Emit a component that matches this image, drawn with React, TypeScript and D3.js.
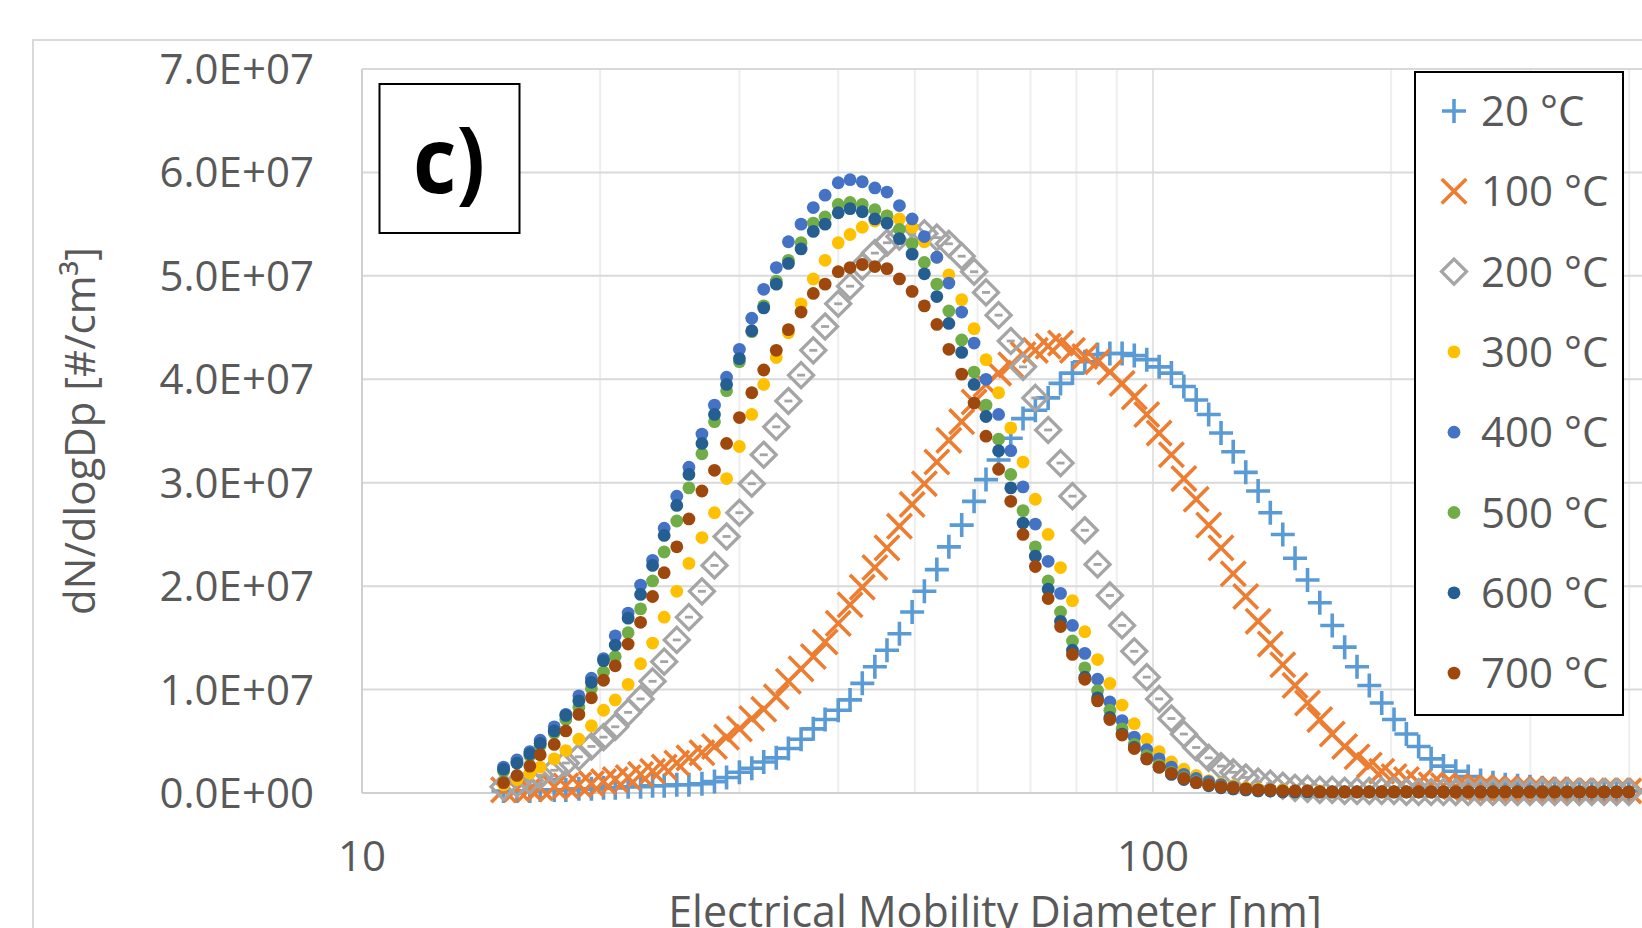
import React, { useEffect } from "react";
import * as d3 from "d3";

// Electrical mobility diameter channels [nm] (64 channels / decade)
const DIAMETERS = [
  15.1, 15.7, 16.3, 16.8, 17.5, 18.1, 18.8, 19.5, 20.2, 20.9,
  21.7, 22.5, 23.3, 24.1, 25.0, 25.9, 26.9, 27.9, 28.9, 30.0,
  31.1, 32.2, 33.4, 34.6, 35.9, 37.2, 38.5, 40.0, 41.4, 42.9,
  44.5, 46.1, 47.8, 49.6, 51.4, 53.3, 55.2, 57.3, 59.4, 61.5,
  63.8, 66.1, 68.5, 71.0, 73.7, 76.4, 79.1, 82.0, 85.1, 88.2,
  91.4, 94.7, 98.2, 101.8, 105.5, 109.4, 113.4, 117.6, 121.9, 126.3,
  131.0, 135.8, 140.7, 145.9, 151.2, 156.8, 162.5, 168.5, 174.7, 181.1,
  187.7, 194.6, 201.7, 209.1, 216.7, 224.7, 232.9, 241.4, 250.3, 259.5,
  269.0, 278.8, 289.0, 299.6, 310.6, 322.0, 333.8, 346.0, 358.7, 371.8,
  385.4, 399.5,
];
const DIAMETERS_100C = [...DIAMETERS, 414.2];

// dN/dlogDp values in units of 1E+07 #/cm3
const S20 = [
  0.02, 0.02, 0.02, 0.03, 0.03, 0.03, 0.04, 0.04, 0.05, 0.05,
  0.06, 0.06, 0.07, 0.07, 0.08, 0.08, 0.09, 0.11, 0.15, 0.20,
  0.24, 0.30, 0.34, 0.43, 0.52, 0.62, 0.71, 0.80, 0.90, 1.06,
  1.22, 1.38, 1.54, 1.75, 1.95, 2.16, 2.38, 2.59, 2.82, 3.03,
  3.22, 3.43, 3.62, 3.70, 3.82, 3.96, 4.06, 4.17, 4.24, 4.25,
  4.25, 4.23, 4.19, 4.12, 4.06, 3.93, 3.80, 3.66, 3.48, 3.30,
  3.10, 2.92, 2.71, 2.50, 2.27, 2.06, 1.84, 1.62, 1.41, 1.22,
  1.04, 0.87, 0.71, 0.57, 0.45, 0.33, 0.26, 0.21, 0.16, 0.12,
  0.10, 0.08, 0.07, 0.06, 0.05, 0.04, 0.04, 0.03, 0.03, 0.02,
  0.02, 0.02,
];
const S100 = [
  0.03, 0.04, 0.04, 0.05, 0.06, 0.07, 0.08, 0.09, 0.11, 0.13,
  0.15, 0.18, 0.21, 0.25, 0.29, 0.34, 0.39, 0.45, 0.54, 0.62,
  0.72, 0.81, 0.93, 1.08, 1.20, 1.32, 1.46, 1.64, 1.82, 1.99,
  2.18, 2.37, 2.58, 2.79, 2.99, 3.20, 3.41, 3.59, 3.78, 3.95,
  4.06, 4.14, 4.24, 4.28, 4.32, 4.35, 4.28, 4.22, 4.17, 4.07,
  3.96, 3.83, 3.66, 3.48, 3.27, 3.04, 2.84, 2.59, 2.37, 2.12,
  1.90, 1.66, 1.44, 1.24, 1.04, 0.87, 0.71, 0.57, 0.45, 0.35,
  0.27, 0.21, 0.16, 0.13, 0.10, 0.08, 0.07, 0.06, 0.05, 0.05,
  0.04, 0.04, 0.03, 0.03, 0.03, 0.03, 0.02, 0.02, 0.02, 0.02,
  0.02, 0.02, 0.02,
];
const S200 = [
  0.06, 0.09, 0.12, 0.17, 0.22, 0.29, 0.35, 0.45, 0.54, 0.64,
  0.78, 0.91, 1.08, 1.27, 1.48, 1.70, 1.95, 2.20, 2.48, 2.71,
  2.99, 3.27, 3.54, 3.79, 4.04, 4.28, 4.51, 4.73, 4.90, 5.09,
  5.22, 5.32, 5.38, 5.41, 5.41, 5.37, 5.31, 5.19, 5.04, 4.84,
  4.62, 4.37, 4.12, 3.82, 3.51, 3.19, 2.87, 2.54, 2.21, 1.91,
  1.62, 1.37, 1.12, 0.91, 0.72, 0.57, 0.44, 0.34, 0.26, 0.20,
  0.15, 0.11, 0.09, 0.07, 0.05, 0.04, 0.03, 0.03, 0.02, 0.02,
  0.02, 0.02, 0.02, 0.01, 0.01, 0.01, 0.01, 0.01, 0.01, 0.01,
  0.01, 0.01, 0.01, 0.01, 0.01, 0.01, 0.01, 0.01, 0.01, 0.01,
  0.01, 0.01,
];
const S300 = [
  0.08, 0.13, 0.19, 0.25, 0.33, 0.41, 0.52, 0.65, 0.80, 0.90,
  1.05, 1.25, 1.45, 1.70, 1.95, 2.22, 2.47, 2.71, 3.04, 3.35,
  3.66, 3.95, 4.21, 4.45, 4.73, 4.97, 5.15, 5.32, 5.40, 5.47,
  5.53, 5.58, 5.55, 5.47, 5.33, 5.18, 5.01, 4.77, 4.49, 4.19,
  3.87, 3.53, 3.20, 2.84, 2.50, 2.18, 1.86, 1.56, 1.29, 1.06,
  0.85, 0.67, 0.52, 0.40, 0.30, 0.23, 0.17, 0.12, 0.09, 0.07,
  0.05, 0.04, 0.03, 0.03, 0.02, 0.02, 0.02, 0.01, 0.01, 0.01,
  0.01, 0.01, 0.01, 0.01, 0.01, 0.01, 0.01, 0.01, 0.01, 0.01,
  0.01, 0.01, 0.01, 0.01, 0.01, 0.01, 0.01, 0.01, 0.01, 0.01,
  0.01, 0.01,
];
const S400 = [
  0.25, 0.32, 0.40, 0.51, 0.64, 0.76, 0.94, 1.11, 1.30, 1.52,
  1.74, 2.01, 2.25, 2.56, 2.87, 3.15, 3.47, 3.75, 4.02, 4.29,
  4.59, 4.87, 5.08, 5.33, 5.50, 5.66, 5.78, 5.90, 5.93, 5.91,
  5.85, 5.81, 5.68, 5.55, 5.38, 5.18, 4.93, 4.65, 4.35, 4.00,
  3.66, 3.31, 2.96, 2.60, 2.24, 1.93, 1.62, 1.35, 1.10, 0.88,
  0.70, 0.54, 0.42, 0.33, 0.25, 0.18, 0.14, 0.11, 0.08, 0.06,
  0.04, 0.03, 0.03, 0.02, 0.02, 0.02, 0.01, 0.01, 0.01, 0.01,
  0.01, 0.01, 0.01, 0.01, 0.01, 0.01, 0.01, 0.01, 0.01, 0.01,
  0.01, 0.01, 0.01, 0.01, 0.01, 0.01, 0.01, 0.01, 0.01, 0.01,
  0.01, 0.01,
];
const S500 = [
  0.21, 0.29, 0.36, 0.46, 0.58, 0.71, 0.83, 1.01, 1.17, 1.32,
  1.55, 1.78, 2.05, 2.33, 2.63, 2.95, 3.28, 3.59, 3.89, 4.17,
  4.46, 4.71, 4.95, 5.15, 5.32, 5.51, 5.57, 5.69, 5.71, 5.69,
  5.64, 5.58, 5.45, 5.31, 5.13, 4.92, 4.66, 4.38, 4.07, 3.75,
  3.42, 3.08, 2.73, 2.38, 2.05, 1.75, 1.47, 1.21, 0.99, 0.80,
  0.62, 0.47, 0.36, 0.27, 0.20, 0.15, 0.11, 0.08, 0.06, 0.04,
  0.03, 0.02, 0.02, 0.02, 0.01, 0.01, 0.01, 0.01, 0.01, 0.01,
  0.01, 0.01, 0.01, 0.01, 0.01, 0.01, 0.01, 0.01, 0.01, 0.01,
  0.01, 0.01, 0.01, 0.01, 0.01, 0.01, 0.01, 0.01, 0.01, 0.01,
  0.01, 0.01,
];
const S600 = [
  0.23, 0.29, 0.38, 0.48, 0.60, 0.75, 0.89, 1.07, 1.28, 1.43,
  1.69, 1.92, 2.20, 2.49, 2.78, 3.08, 3.38, 3.66, 3.95, 4.20,
  4.47, 4.69, 4.92, 5.12, 5.26, 5.43, 5.50, 5.61, 5.65, 5.62,
  5.55, 5.51, 5.36, 5.21, 5.02, 4.80, 4.54, 4.26, 3.95, 3.64,
  3.31, 2.95, 2.61, 2.29, 1.97, 1.66, 1.38, 1.12, 0.92, 0.73,
  0.57, 0.44, 0.33, 0.25, 0.18, 0.13, 0.10, 0.07, 0.05, 0.04,
  0.03, 0.02, 0.02, 0.01, 0.01, 0.01, 0.01, 0.01, 0.01, 0.01,
  0.01, 0.01, 0.01, 0.01, 0.01, 0.01, 0.01, 0.01, 0.01, 0.01,
  0.01, 0.01, 0.01, 0.01, 0.01, 0.01, 0.01, 0.01, 0.01, 0.01,
  0.01, 0.01,
];
const S700 = [
  0.10, 0.17, 0.26, 0.37, 0.47, 0.60, 0.76, 0.92, 1.09, 1.23,
  1.44, 1.65, 1.90, 2.13, 2.38, 2.65, 2.92, 3.12, 3.38, 3.63,
  3.87, 4.09, 4.28, 4.48, 4.65, 4.83, 4.92, 5.04, 5.08, 5.11,
  5.09, 5.07, 4.97, 4.85, 4.71, 4.53, 4.29, 4.05, 3.77, 3.45,
  3.13, 2.82, 2.50, 2.19, 1.88, 1.61, 1.34, 1.10, 0.89, 0.71,
  0.56, 0.43, 0.33, 0.25, 0.19, 0.14, 0.10, 0.08, 0.06, 0.05,
  0.04, 0.03, 0.03, 0.02, 0.02, 0.02, 0.01, 0.01, 0.01, 0.01,
  0.01, 0.01, 0.01, 0.01, 0.01, 0.01, 0.01, 0.01, 0.01, 0.01,
  0.01, 0.01, 0.01, 0.01, 0.01, 0.01, 0.01, 0.01, 0.01, 0.01,
  0.01, 0.01,
];
const UNIT = 1e7;

const SERIES_NAMES = ["20 °C", "100 °C", "200 °C", "300 °C", "400 °C", "500 °C", "600 °C", "700 °C"];
const SERIES_COLORS = ["#5B9BD5", "#ED7D31", "#A5A5A5", "#FFC000", "#4472C4", "#70AD47", "#255E91", "#9E480E"];
const SERIES_MARKERS = ["plus", "cross", "diamond", "dot", "dot", "dot", "dot", "dot"];
const SERIES_VALUES = [S20, S100, S200, S300, S400, S500, S600, S700];
const SERIES_X = [DIAMETERS, DIAMETERS_100C, DIAMETERS, DIAMETERS, DIAMETERS, DIAMETERS, DIAMETERS, DIAMETERS];

const Y_TICKS = [0, 1e7, 2e7, 3e7, 4e7, 5e7, 6e7, 7e7];
const Y_TICK_LABELS = ["0.0E+00", "1.0E+07", "2.0E+07", "3.0E+07", "4.0E+07", "5.0E+07", "6.0E+07", "7.0E+07"];
const X_MAJOR = [10, 100, 1000];
const X_LABELED = [10, 100];
const X_LABELS = ["10", "100"];
const X_MINOR = [20, 30, 40, 50, 60, 70, 80, 90, 200, 300, 400, 500, 600, 700, 800, 900];

const W = 1642;
const H = 928;
const FONT = "'Open Sans', 'Noto Sans', sans-serif";
const TEXT = "#595959";

const x = d3.scaleLog().domain([10, 1000]).range([362, 1944]);
const y = d3.scaleLinear().domain([0, 7e7]).range([793, 69]);

function Marker({ kind, cx, cy, color, inner }: any) {
  if (kind === "plus") {
    const a = 12;
    return (
      <path d={`M${cx - a},${cy}H${cx + a}M${cx},${cy - a}V${cy + a}`} stroke={color} strokeWidth={3.6} fill="none" />
    );
  }
  if (kind === "cross") {
    const a = 12.3;
    return (
      <path
        d={`M${cx - a},${cy - a}L${cx + a},${cy + a}M${cx - a},${cy + a}L${cx + a},${cy - a}`}
        stroke={color}
        strokeWidth={3.6}
        fill="none"
      />
    );
  }
  if (kind === "diamond") {
    const a = 12.5;
    return (
      <g>
        <path
          d={`M${cx},${cy - a}L${cx + a},${cy}L${cx},${cy + a}L${cx - a},${cy}Z`}
          stroke={color}
          strokeWidth={3.3}
          fill="none"
        />
        {inner ? <path d={`M${cx - 4},${cy}H${cx + 4}`} stroke={color} strokeWidth={2.8} /> : null}
      </g>
    );
  }
  return <circle cx={cx} cy={cy} r={6.4} fill={color} />;
}

export default function App() {
  useEffect(() => {
    document.body.style.margin = "0";
  }, []);

  const plotLeft = x(10);
  const plotTop = y(7e7);
  const plotBottom = y(0);

  const legendX = 1415;
  const legendY = 72;
  const legendW = 208;
  const legendH = 643;
  const legendRow0 = 111;
  const legendStep = 80.3;

  return (
    <svg
      width={W}
      height={H}
      viewBox={`0 0 ${W} ${H}`}
      style={{ position: "absolute", left: 0, top: 0, display: "block", background: "#fff" }}
    >
      <rect x={0} y={0} width={W} height={H} fill="#fff" />
      {/* chart area border */}
      <path d={`M33,${H + 5}V40H${W + 5}`} stroke="#d9d9d9" strokeWidth={2} fill="none" />

      {/* minor vertical gridlines */}
      {X_MINOR.map((v) => (
        <line key={"mn" + v} x1={x(v)} x2={x(v)} y1={plotTop} y2={plotBottom} stroke="#eeeeee" strokeWidth={2} />
      ))}
      {X_MAJOR.map((v) => (
        <line key={"mj" + v} x1={x(v)} x2={x(v)} y1={plotTop} y2={plotBottom} stroke="#e3e3e3" strokeWidth={2} />
      ))}
      {/* horizontal gridlines */}
      {Y_TICKS.map((v) => (
        <line key={"h" + v} x1={plotLeft} x2={W + 5} y1={y(v)} y2={y(v)} stroke="#d9d9d9" strokeWidth={2} />
      ))}
      {/* axis lines */}
      <line x1={plotLeft} x2={plotLeft} y1={plotTop} y2={plotBottom} stroke="#d0d0d0" strokeWidth={2} />
      <line x1={plotLeft} x2={W + 5} y1={plotBottom} y2={plotBottom} stroke="#d0d0d0" strokeWidth={2} />

      {/* y tick labels */}
      {Y_TICKS.map((v, i) => (
        <text key={"yl" + v} x={314} y={y(v) + 15} textAnchor="end" fontFamily={FONT} fontSize={42} fill={TEXT}>
          {Y_TICK_LABELS[i]}
        </text>
      ))}
      {/* x tick labels */}
      {X_LABELED.map((v, i) => (
        <text key={"xl" + v} x={x(v)} y={871} textAnchor="middle" fontFamily={FONT} fontSize={42} fill={TEXT}>
          {X_LABELS[i]}
        </text>
      ))}

      {/* axis titles */}
      <text x={995} y={927} textAnchor="middle" fontFamily={FONT} fontSize={43} fill={TEXT}>
        Electrical Mobility Diameter [nm]
      </text>
      <text
        transform={`translate(95,${(plotTop + plotBottom) / 2}) rotate(-90)`}
        textAnchor="middle"
        fontFamily={FONT}
        fontSize={42}
        fill={TEXT}
      >
        dN/dlogDp [#/cm³]
      </text>

      {/* series */}
      {SERIES_VALUES.map((vals, s) => (
        <g key={"s" + s}>
          {vals.map((v, i) => (
            <Marker
              key={i}
              kind={SERIES_MARKERS[s]}
              cx={x(SERIES_X[s][i])}
              cy={y(v * UNIT)}
              color={SERIES_COLORS[s]}
              inner={true}
            />
          ))}
        </g>
      ))}

      {/* panel label */}
      <rect x={379.5} y={84} width={140} height={149} fill="#fff" stroke="#000" strokeWidth={2} />
      <text
        x={449}
        y={193}
        textAnchor="middle"
        fontFamily={FONT}
        fontWeight={700}
        fontSize={92}
        fill="#000"
        textLength={72}
        lengthAdjust="spacingAndGlyphs"
      >
        c)
      </text>

      {/* legend */}
      <rect x={legendX} y={legendY} width={legendW} height={legendH} fill="#fff" stroke="#000" strokeWidth={2} />
      {SERIES_NAMES.map((name, s) => {
        const cy = legendRow0 + s * legendStep;
        return (
          <g key={"lg" + s}>
            <Marker kind={SERIES_MARKERS[s]} cx={1454} cy={cy} color={SERIES_COLORS[s]} inner={false} />
            <text x={1481} y={cy + 15} fontFamily={FONT} fontSize={42} fill={TEXT}>
              {name}
            </text>
          </g>
        );
      })}
    </svg>
  );
}
